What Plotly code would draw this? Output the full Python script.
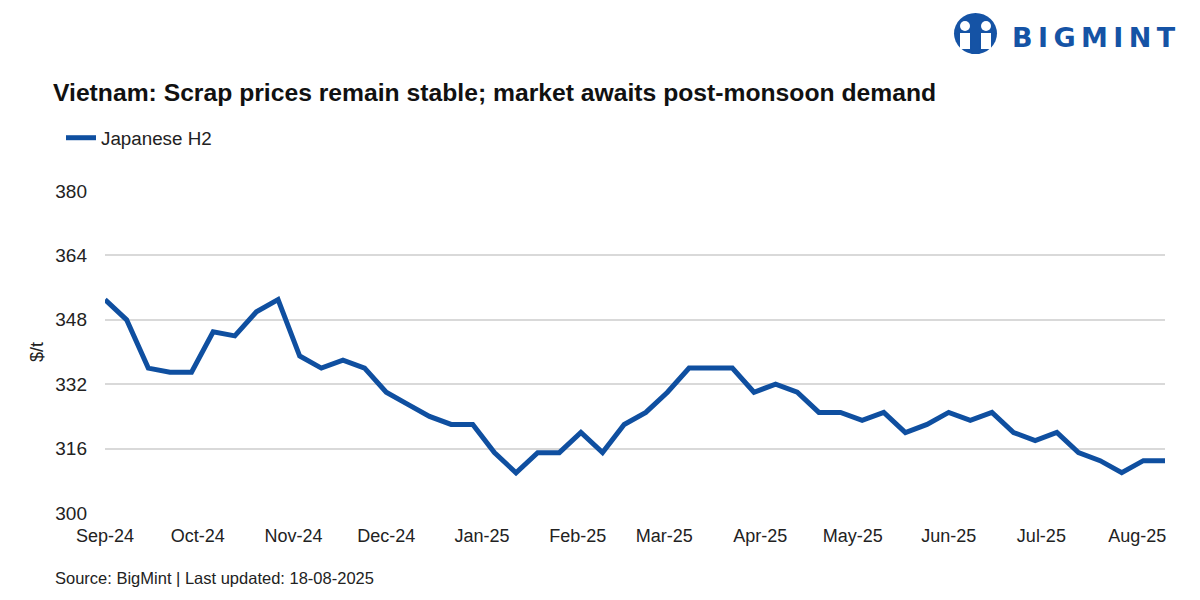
import pandas as pd
import plotly.graph_objects as go

# ---- data ----
series_name = "Japanese H2"
start_date = "2024-09-06"
prices = [353, 348, 336, 335, 335, 345, 344, 350, 353, 339,
          336, 338, 336, 330, 327, 324, 322, 322, 315, 310,
          315, 315, 320, 315, 322, 325, 330, 336, 336, 336,
          330, 332, 330, 325, 325, 323, 325, 320, 322, 325,
          323, 325, 320, 318, 320, 315, 313, 310, 313, 313]
dates = pd.date_range(start=start_date, periods=len(prices), freq="7D")
y_ticks = [300, 316, 332, 348, 364, 380]

title_text = "Vietnam: Scrap prices remain stable; market awaits post-monsoon demand"
source_text = "Source: BigMint | Last updated: 18-08-2025"
y_title = "$/t"

# ---- styling ----
OFF = 8                       # page body margin
W, H = 1200 - 2 * OFF, 600 - 2 * OFF
PLOT_L, PLOT_R, PLOT_T, PLOT_B = 105, 1165, 191, 513   # page pixels
L = PLOT_L - OFF
R = W - (PLOT_R - OFF)
T = PLOT_T - OFF
B = H - (PLOT_B - OFF)
LINE_COLOR = "#0f4fa0"
LOGO_COLOR = "#1553a5"
FONT = "Liberation Sans"
TXT = "#222222"

def px_x(p):                  # page pixel -> paper x
    return (p - PLOT_L) / (PLOT_R - PLOT_L)

def px_y(p):                  # page pixel -> paper y
    return (PLOT_B - p) / (PLOT_B - PLOT_T)

def cx(p):                    # page pixel -> container x
    return (p - OFF) / W

def cy(p):
    return 1 - (p - OFF) / H

fig = go.Figure()
fig.add_trace(go.Scatter(
    x=dates, y=prices, mode="lines", name=series_name,
    line=dict(color=LINE_COLOR, width=5),
    showlegend=True,
))

fig.update_layout(
    width=W, height=H,
    margin=dict(l=L, r=R, t=T, b=B),
    paper_bgcolor="white", plot_bgcolor="white",
    font=dict(family=FONT, size=18, color=TXT),
    title=dict(
        text=title_text, xref="container", yref="container",
        x=cx(53), y=cy(92), xanchor="left", yanchor="middle",
        font=dict(family=FONT, size=24.7, color="#111111", weight="bold"),
    ),
    legend=dict(
        orientation="h", xref="container", yref="container",
        x=cx(61), y=cy(138), xanchor="left", yanchor="middle",
        font=dict(family=FONT, size=18.8, color=TXT),
        bgcolor="rgba(0,0,0,0)", borderwidth=0,
    ),
    xaxis=dict(
        type="date",
        range=[dates[0], dates[-1]],
        tick0=start_date, dtick="M1", tickformat="%b-%y",
        showgrid=False, zeroline=False, showline=False,
        ticks="", ticklabelstandoff=10,
        tickfont=dict(family=FONT, size=18, color=TXT),
    ),
    yaxis=dict(
        range=[300, 380], tickvals=y_ticks,
        showgrid=True, gridcolor="#d9d9d9", gridwidth=1.5,
        zeroline=False, showline=False, ticks="",
        ticklabelstandoff=17,
        tickfont=dict(family=FONT, size=19, color=TXT),
        title=dict(text=y_title, standoff=6,
                   font=dict(family=FONT, size=18, color=TXT)),
    ),
)

# source note
fig.add_annotation(
    text=source_text, xref="paper", yref="paper",
    x=px_x(53), y=px_y(578), xanchor="left", yanchor="middle",
    showarrow=False, font=dict(family=FONT, size=16.5, color=TXT),
)

# logo: wordmark
fig.add_annotation(
    text="B\u2009I\u2009G\u2009M\u2009I\u2009N\u2009T", xref="paper", yref="paper",
    x=px_x(1178), y=px_y(37), xanchor="right", yanchor="middle",
    showarrow=False,
    font=dict(family="DejaVu Sans", size=27, color=LOGO_COLOR, weight="bold"),
)
# logo: emblem
fig.add_shape(type="circle", xref="paper", yref="paper",
              x0=px_x(954), x1=px_x(997), y0=px_y(54), y1=px_y(13),
              fillcolor=LOGO_COLOR, line=dict(width=0), layer="above")
for hx in (965, 986):
    fig.add_shape(type="circle", xref="paper", yref="paper",
                  x0=px_x(hx - 5), x1=px_x(hx + 5), y0=px_y(31), y1=px_y(21),
                  fillcolor="white", line=dict(width=0), layer="above")
    fig.add_shape(type="rect", xref="paper", yref="paper",
                  x0=px_x(hx - 5), x1=px_x(hx + 5), y0=px_y(49), y1=px_y(33),
                  fillcolor="white", line=dict(width=0), layer="above")
fig.add_shape(type="rect", xref="paper", yref="paper",
              x0=px_x(971.5), x1=px_x(979.5), y0=px_y(54), y1=px_y(38),
              fillcolor=LOGO_COLOR, line=dict(width=0), layer="above")

fig.write_html("out.html")
